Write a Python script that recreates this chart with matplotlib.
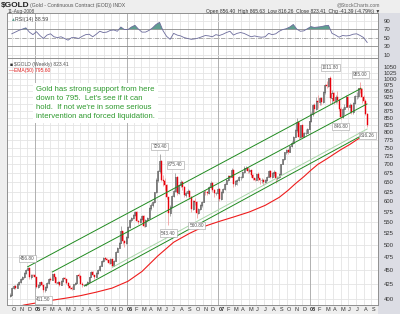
import numpy as np
import pandas as pd
import matplotlib
matplotlib.use("Agg")
import matplotlib.pyplot as plt
from matplotlib.patches import Rectangle

plt.rcParams['font.family'] = ['Liberation Sans', 'DejaVu Sans']

# weekly bars (week ending friday)
weeks = pd.date_range('2004-09-24', '2008-08-15', freq='W-FRI')

close_2004 = [407, 418, 421, 419, 425, 428, 434, 437, 446, 451, 455, 437, 442, 441, 438]
high_2004 = [410, 420, 423, 424, 427, 430, 436, 440, 447, 452, 456.8, 454, 444, 443, 443]
low_2004 = [403, 406, 417, 417, 418, 424, 427, 432, 436, 444, 450, 435, 434, 439, 436]

close_2005 = [420, 423, 428, 424, 414, 420, 427, 435, 432, 444, 437, 427, 428, 424, 430, 436, 434,
              427, 421, 419, 417, 425, 427, 441, 440, 426, 423, 424, 425, 429, 437, 447, 441, 438,
              446, 450, 459, 468, 473, 472, 470, 465, 471, 459, 468, 486, 495, 505, 530, 508, 504, 517]
high_2005 = [438, 426, 429, 428, 424, 421, 428, 436, 437, 445, 445, 438, 430, 429, 432, 437, 438,
             435, 428, 423, 421, 426, 428, 442, 445, 441, 428, 426, 427, 431, 438, 448, 448, 442,
             447, 452, 460, 470, 475, 476, 474, 471, 473, 471, 469, 487, 496, 507, 542, 530, 511, 519]
low_2005 = [419, 418, 421, 421, 411.5, 412, 418, 426, 430, 432, 435, 425, 425, 421, 424, 428, 432,
            425, 419, 416, 415, 416, 424, 427, 436, 425, 420, 421, 421, 424, 429, 437, 439, 435,
            437, 444, 449, 458, 466, 469, 467, 462, 463, 457, 458, 468, 485, 495, 505, 502, 496, 503]

close_2006 = [539, 556, 560, 567, 575, 553, 550, 557, 565, 542, 556, 560, 583, 590, 598, 623, 655,
              680, 710, 655, 653, 643, 610, 571, 585, 614, 627, 665, 620, 641, 650, 638, 615, 622,
              627, 612, 582, 601, 599, 571, 580, 591, 598, 625, 623, 620, 637, 648, 629, 620, 621, 632]
high_2006 = [541, 558, 563, 570, 577, 576, 556, 560, 567, 566, 558, 563, 585, 595, 602, 625, 660,
             685, 729.4, 712, 670, 660, 645, 612, 590, 616, 632, 675.4, 667, 645, 655, 652, 640, 627,
             632, 630, 613, 604, 608, 600, 583, 593, 600, 630, 630, 627, 640, 652, 650, 632, 625, 635]
low_2006 = [516, 537, 550, 557, 565, 552, 545, 548, 554, 540, 540, 553, 558, 578, 585, 595, 620,
            650, 675, 652, 640, 629, 605, 543.4, 565, 585, 610, 625, 615, 618, 636, 630, 610, 612,
            618, 605, 575, 578, 592, 560.8, 568, 578, 586, 598, 617, 615, 618, 635, 625, 612, 617, 619]

close_2007 = [606, 625, 631, 646, 656, 666, 665, 685, 645, 652, 655, 663, 663, 677, 690, 690, 681,
              683, 670, 660, 657, 672, 660, 655, 656, 650, 655, 665, 681, 665, 675, 678, 660, 665,
              673, 700, 715, 736, 744, 738, 755, 765, 785, 808, 834, 785, 823, 785, 797, 798, 812, 838]
high_2007 = [633, 627, 633, 648, 660, 670, 670, 689, 687, 657, 658, 666, 667, 680, 694, 696, 693,
             688, 685, 672, 662, 675, 677, 662, 660, 659, 659, 667, 685, 684, 678, 683, 678, 668,
             675, 702, 717, 738, 746, 746, 757, 770, 788, 810, 848, 835, 825, 826, 802, 810, 815, 840]
low_2007 = [602, 604, 622, 630, 645, 652, 660, 664, 638, 640, 643, 652, 656, 660, 675, 684, 676,
            674, 665, 655, 652, 655, 653, 645, 648, 642, 647, 652, 664, 662, 660, 666, 648, 657,
            661, 670, 700, 713, 730, 730, 737, 752, 763, 783, 800, 779, 780, 780, 783, 790, 796, 810]

close_2008 = [865, 897, 880, 913, 908, 921, 906, 947, 975, 972, 1001, 921, 941, 912, 925, 915, 883,
              853, 883, 890, 925, 887, 897, 870, 905, 929, 932, 960, 956, 928, 911, 864.8, 823.41]
high_2008 = [870, 900, 903, 925, 935, 926, 928, 950, 978, 992, 1003, 1011.8, 952, 945, 933, 950, 917,
             890, 890, 901, 933, 930, 903, 900, 907, 934, 945, 962, 985.0, 962, 935, 920, 865.63]
low_2008 = [834, 857, 865, 876, 885, 898, 896, 902, 940, 960, 965, 900, 899, 900, 905, 902, 875,
            846.8, 850, 860, 888, 878, 866, 862, 863, 900, 918, 923, 943, 904, 898, 858, 816.26]

close = np.array(close_2004 + close_2005 + close_2006 + close_2007 + close_2008)
high = np.array(high_2004 + high_2005 + high_2006 + high_2007 + high_2008)
low = np.array(low_2004 + low_2005 + low_2006 + low_2007 + low_2008)
opn = np.r_[405, close[:-1]]

# labelled highs / lows
peak_weeks = ['2004-12-03', '2006-05-12', '2006-07-14', '2008-03-21', '2008-07-18']
trough_weeks = ['2005-02-04', '2006-06-16', '2006-10-06', '2008-05-02', '2008-08-15']

# EMA(50)
ema_dates = pd.to_datetime(['2004-09-24', '2004-11-19', '2005-01-07', '2005-03-04', '2005-05-06',
                            '2005-07-01', '2005-09-02', '2005-11-04', '2006-01-06', '2006-03-03',
                            '2006-05-05', '2006-07-07', '2006-09-08', '2006-11-03', '2007-01-05',
                            '2007-03-02', '2007-05-04', '2007-07-06', '2007-08-31', '2007-10-05',
                            '2007-11-02', '2007-12-07', '2008-01-04', '2008-02-01', '2008-03-07',
                            '2008-04-04', '2008-05-02', '2008-06-06', '2008-07-04', '2008-08-15'])
ema_vals = [383, 389.6, 393, 397, 401, 405, 411, 418, 430, 448, 478, 506, 525, 540, 552,
            562, 574, 590, 610, 628, 645, 665, 683, 700, 716, 730, 744, 760, 775, 795.6]

# trend channel lines (start date, start price, end date, end price)
chan_dark = [('2004-12-03', 456.8, '2008-07-21', 960),
             ('2005-03-11', 447, '2008-08-14', 900),
             ('2005-07-18', 421.7, '2008-08-15', 799)]
chan_pale = [('2005-11-06', 456, '2008-08-15', 811)]

# RSI(14), every other week
rsi_vals = [59, 63, 67, 70, 73, 63, 57, 64, 55, 48,
            56, 59, 52, 50, 52, 48, 44, 50, 50, 48,
            53, 57, 58, 52, 58, 65, 62, 63, 67, 68,
            65, 75, 69, 69, 75, 79, 70, 63, 63, 67,
            73, 81, 86, 66, 53, 46, 60, 56, 54, 50,
            48, 46, 47, 49, 52, 55, 54, 52, 57, 55,
            58, 62, 65, 56, 60, 62, 60, 56, 52, 54,
            52, 51, 52, 60, 57, 59, 65, 69, 71, 75,
            81, 70, 65, 66, 71, 76, 74, 75, 76, 78,
            79, 60, 56, 51, 55, 54, 55, 58, 59, 55,
            50, 38.59]
rsi_dates = weeks[1::2]

price_ticks = list(range(400, 1051, 25))
rsi_ticks = [90, 70, 50, 30, 10]
month_letters = ['J', 'F', 'M', 'A', 'M', 'J', 'J', 'A', 'S', 'O', 'N', 'D']

W, H = 400, 314


def fx(x):
    return x / W


def fy(y):
    return 1 - y / H


fig = plt.figure(figsize=(4, 3.14), dpi=100, facecolor='#eeeeee')
fig.patches.append(Rectangle((fx(378), 0), fx(22), fy(13), transform=fig.transFigure,
                             facecolor='#dcdde4', edgecolor='none', zorder=-1))

ax_rsi = fig.add_axes([fx(7), fy(58), fx(371), 45 / H])
ax = fig.add_axes([fx(7), fy(305), fx(371), 247 / H], sharex=ax_rsi)

x0, x1 = pd.Timestamp('2004-09-12'), pd.Timestamp('2008-09-27')
months = pd.date_range('2004-10-01', '2008-09-01', freq='MS')

# ---- main price panel
ax.set_yscale('log')
ax.set_ylim(389.6, 1090)
ax.yaxis.set_minor_locator(matplotlib.ticker.NullLocator())
ax.set_yticks(price_ticks)
ax.set_yticklabels([str(t) for t in price_ticks])
for t in price_ticks:
    ax.axhline(t, color='#e4e4e4', lw=0.6, zorder=0)

for a in (ax, ax_rsi):
    a.set_facecolor('white')
    for m in months:
        if m.month == 1:
            a.axvline(m, color='#b0b0b0', lw=0.7, zorder=0)
        else:
            a.axvline(m, color='#e4e4e4', lw=0.6, zorder=0)
    for s in a.spines.values():
        s.set_color('#909090')
        s.set_linewidth(0.7)
    a.yaxis.tick_right()
    a.tick_params(axis='y', length=0, pad=4, labelsize=4.3, labelcolor='#333333',
                  labelright=True, labelleft=False)

up = close >= opn
dn = ~up
ax.vlines(weeks[up], low[up], high[up], color='#8c8c8c', lw=0.5, zorder=3)
ax.vlines(weeks[dn], low[dn], high[dn], color='#f08c8c', lw=0.5, zorder=3)
ax.bar(weeks[up], (close - opn)[up], bottom=opn[up], width=4, facecolor='white',
       edgecolor='#333333', lw=0.4, zorder=4)
ax.bar(weeks[dn], (opn - close)[dn], bottom=close[dn], width=4, facecolor='#e8000b',
       edgecolor='#e8000b', lw=0.3, zorder=4)

ax.plot(ema_dates, ema_vals, color='#ee1c1c', lw=0.8, zorder=2)

for d0, p0, d1, p1 in chan_dark:
    ax.plot(pd.to_datetime([d0, d1]), [p0, p1], color='#1f8a1f', lw=0.7, zorder=5)
for d0, p0, d1, p1 in chan_pale:
    ax.plot(pd.to_datetime([d0, d1]), [p0, p1], color='#a9d6a9', lw=0.7, zorder=5)

box = dict(boxstyle='square,pad=0.25', facecolor='white', edgecolor='#a0a0a0', lw=0.4)
for d in peak_weeks:
    i = weeks.get_loc(pd.Timestamp(d))
    ax.annotate(f"{high[i]:.2f}", (weeks[i], high[i]), xytext=(0, 4), textcoords='offset points',
                ha='center', va='bottom', fontsize=3.4, color='#555555', bbox=box, zorder=6)
for d in trough_weeks:
    i = weeks.get_loc(pd.Timestamp(d))
    ax.annotate(f"{low[i]:.2f}", (weeks[i], low[i]), xytext=(0, -4), textcoords='offset points',
                ha='center', va='top', fontsize=3.4, color='#555555', bbox=box, zorder=6)

ax.text(0.006, 0.972, "\u25a0", transform=ax.transAxes, fontsize=3.6, color='#333333',
        va='center', ha='left')
ax.text(0.018, 0.972, f"$GOLD (Weekly) {close[-1]:.2f}", transform=ax.transAxes, fontsize=3.6,
        color='#555555', va='center', ha='left')
ax.text(0.006, 0.951, f"\u2014EMA(50) {ema_vals[-1]:.2f}", transform=ax.transAxes, fontsize=3.6,
        color='#e02020', va='center', ha='left')

# x axis month labels
ax.set_xlim(x0, x1)
ax.set_xticks(months)
labels = []
for m in months:
    labels.append(f"{m.year % 100:02d}" if m.month == 1 else month_letters[m.month - 1])
ax.set_xticklabels(labels)
ax.tick_params(axis='x', length=0, pad=1.5, labelsize=4.0, labelcolor='#333333')
for lab, m in zip(ax.get_xticklabels(), months):
    lab.set_horizontalalignment('left')
    if m.month == 1:
        lab.set_fontweight('bold')

# ---- RSI panel
ax_rsi.set_ylim(2, 108)
ax_rsi.set_yticks(rsi_ticks)
ax_rsi.set_yticklabels([str(t) for t in rsi_ticks])
ax_rsi.tick_params(axis='x', length=0, labelbottom=False)
for t in (90, 10):
    ax_rsi.axhline(t, color='#e4e4e4', lw=0.6, zorder=0)
ax_rsi.axhline(70, color='#8a8a8a', lw=0.6, zorder=1)
ax_rsi.axhline(30, color='#8a8a8a', lw=0.6, zorder=1)
ax_rsi.axhline(50, color='#8a8a8a', lw=0.5, ls='-.', zorder=1)
rsi = np.array(rsi_vals)
ax_rsi.fill_between(rsi_dates, rsi, 70, where=rsi > 70, interpolate=True,
                    color='#5f9e90', lw=0, zorder=2)
ax_rsi.plot(rsi_dates, rsi, color='#6c6c9c', lw=0.6, zorder=3)
ax_rsi.text(0.008, 0.86, "\u25b2", transform=ax_rsi.transAxes, fontsize=3.4, color='#5f9e90',
            va='center', ha='left')
ax_rsi.text(0.022, 0.86, f"RSI(14) {rsi_vals[-1]:.2f}", transform=ax_rsi.transAxes, fontsize=3.8,
            color='#444444', va='center', ha='left')

# ---- header
fig.text(fx(1), fy(5.5), "$GOLD", fontsize=6, fontweight='bold', color='#222222', va='center')
fig.text(fx(30), fy(5.5), "(Gold - Continuous Contract (EOD)) INDX", fontsize=3.7,
         color='#555555', va='center')
fig.text(fx(8), fy(11), "11-Aug-2008", fontsize=3.4, color='#444444', va='center')
fig.text(fx(380), fy(5), "@StockCharts.com", fontsize=3.6, color='#666666', va='center', ha='right')
fig.text(fx(380), fy(11),
         "Open 856.40  High 865.63  Low 816.26  Close 823.41  Chg -41.39 (-4.79%) \u25bc",
         fontsize=3.6, color='#333333', va='center', ha='right')

# comment box
fig.text(fx(36), fy(86),
         "Gold has strong support from here\ndown to 795.  Let's see if it can\n"
         "hold.  If not we're in some serious\nintervention and forced liquidation.",
         fontsize=5.6, color='#2e9a2e', va='top', ha='left', linespacing=1.4,
         bbox=dict(boxstyle='square,pad=0.35', facecolor='white', edgecolor='none'), zorder=10)

fig.savefig('out.png', dpi=100, facecolor=fig.get_facecolor())
